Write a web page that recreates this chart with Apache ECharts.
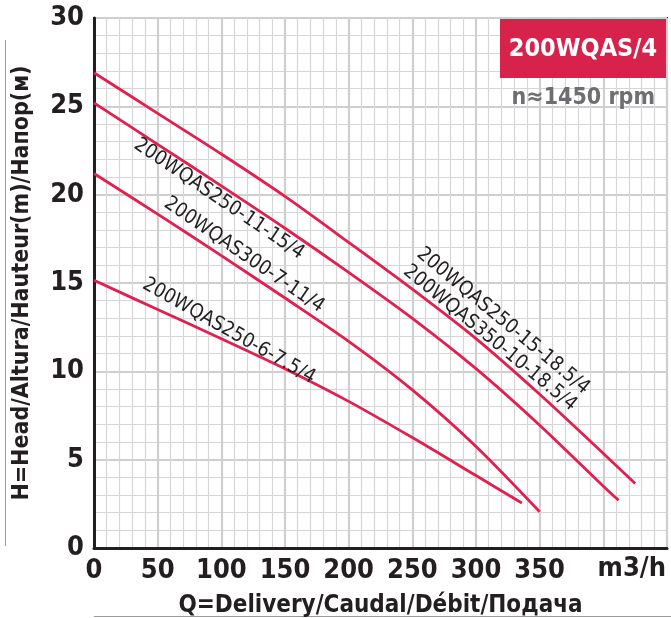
<!DOCTYPE html>
<html>
<head>
<meta charset="utf-8">
<script src="https://cdn.jsdelivr.net/npm/echarts@6/dist/echarts.min.js"></script>
<style>
  html, body { margin: 0; padding: 0; background: #ffffff; }
  #chart { width: 671px; height: 618px; }
</style>
</head>
<body>
<div id="chart"></div>
<script>
// Flow (m3/h) and head (m) readings for each 200WQAS/4 performance curve
const flowA = [0, 50, 100, 150, 200, 250, 300, 350, 400, 425];
const headA = [26.9, 24.6, 22.3, 19.9, 17.3, 14.65, 11.85, 8.7, 5.35, 3.65];

const flowB = [0, 50, 100, 150, 200, 250, 300, 350, 400, 412];
const headB = [25.2, 22.85, 20.5, 18.1, 15.6, 13.0, 10.15, 6.95, 3.5, 2.7];

const flowC = [0, 50, 100, 150, 200, 250, 300, 350];
const headC = [21.2, 18.9, 16.55, 14.15, 11.7, 8.95, 5.75, 2.05];

const flowD = [0, 50, 100, 150, 200, 250, 300, 336];
const headD = [15.15, 13.5, 11.85, 10.15, 8.3, 6.25, 4.1, 2.55];

// Curve captions
const curveNames = ['200WQAS250-11-15/4', '200WQAS300-7-11/4', '200WQAS250-6-7.5/4',
                    '200WQAS250-15-18.5/4', '200WQAS350-10-18.5/4'];
const xTicks = [0, 50, 100, 150, 200, 250, 300, 350];
const yTicks = [0, 5, 10, 15, 20, 25, 30];

const title = '200WQAS/4';
const speed = 'n≈1450 rpm';
const xName = 'Q=Delivery/Caudal/Débit/Подача';
const yName = 'H=Head/Altura/Hauteur(m)/Напор(м)';
const flowUnit = 'm3/h';

const ink = '#231f20';
const curveColor = '#e2204f';
const narrow = '"Liberation Sans Narrow", "DejaVu Sans Condensed", sans-serif';

function pairs(xs, ys) { return xs.map((x, i) => [x, ys[i]]); }

function curve(xs, ys) {
  return {
    type: 'line',
    data: pairs(xs, ys),
    smooth: 0.3,
    symbol: 'none',
    lineStyle: { color: curveColor, width: 2.8 },
    z: 5
  };
}

function caption(text, x, y, deg) {
  return {
    type: 'text',
    x: x, y: y,
    rotation: -deg * Math.PI / 180,
    z: 10,
    style: {
      text: text,
      fill: ink,
      font: '20px ' + narrow,
      align: 'center',
      verticalAlign: 'middle'
    }
  };
}

const chart = echarts.init(document.getElementById('chart'));
chart.setOption({
  animation: false,
  grid: {
    left: 94, right: 4, top: 18, bottom: 70,
    containLabel: false,
    outerBoundsMode: 'none',
    show: true, borderColor: ink, borderWidth: 2, backgroundColor: '#ffffff'
  },
  xAxis: {
    type: 'value',
    min: 0, max: 450, interval: 50,
    name: xName,
    nameLocation: 'middle',
    nameGap: 46,
    nameTextStyle: { color: ink, fontSize: 24, fontWeight: 'bold', fontFamily: narrow },
    axisLine: { show: true, lineStyle: { color: ink, width: 3 } },
    axisTick: { show: false },
    axisLabel: {
      color: ink, fontSize: 27, fontWeight: 'bold', fontFamily: narrow, margin: 9,
      formatter: v => (xTicks.indexOf(v) >= 0 ? String(v) : '')
    },
    splitLine: { show: true, lineStyle: { color: '#cfcfcf', width: 2.2 } },
    minorTick: { show: true, splitNumber: 5, length: 0 },
    minorSplitLine: { show: true, lineStyle: { color: '#d6d6d6', width: 1.2 } }
  },
  yAxis: {
    type: 'value',
    min: 0, max: 30, interval: 5,
    name: yName,
    nameLocation: 'middle',
    nameGap: 60,
    nameTextStyle: { color: ink, fontSize: 23, fontWeight: 'bold', fontFamily: narrow },
    axisLine: { show: true, lineStyle: { color: ink, width: 3 } },
    axisTick: { show: false },
    axisLabel: {
      color: ink, fontSize: 27, fontWeight: 'bold', fontFamily: narrow, margin: 10,
      formatter: v => (yTicks.indexOf(v) >= 0 ? String(v) : '')
    },
    splitLine: { show: true, lineStyle: { color: '#cfcfcf', width: 2.2 } },
    minorTick: { show: true, splitNumber: 5, length: 0 },
    minorSplitLine: { show: true, lineStyle: { color: '#d6d6d6', width: 1.2 } }
  },
  series: [
    curve(flowA, headA),
    curve(flowB, headB),
    curve(flowC, headC),
    curve(flowD, headD)
  ],
  graphic: [
    // model badge, top right
    { type: 'rect', shape: { x: 500, y: 19, width: 166, height: 59 }, style: { fill: '#d7234b' }, z: 8 },
    { type: 'text', x: 583, y: 49, z: 9,
      style: { text: title, fill: '#ffffff', font: 'bold 25px ' + narrow, align: 'center', verticalAlign: 'middle' } },
    { type: 'text', x: 655, y: 98, z: 9,
      style: { text: speed, fill: '#6d6e71', font: 'bold 23px ' + narrow, align: 'right', verticalAlign: 'middle' } },
    // flow unit at the end of the horizontal axis
    { type: 'text', x: 666, y: 569, z: 9,
      style: { text: flowUnit, fill: ink, font: 'bold 27px ' + narrow, align: 'right', verticalAlign: 'middle' } },
    // thin frame rules at the left and bottom edges
    { type: 'line', shape: { x1: 5.5, y1: 40, x2: 5.5, y2: 546 }, style: { stroke: '#9a9a9a', lineWidth: 1 } },
    { type: 'line', shape: { x1: 94, y1: 616.5, x2: 671, y2: 616.5 }, style: { stroke: '#9a9a9a', lineWidth: 1 } },
    caption(curveNames[0], 219, 199, 34),
    caption(curveNames[1], 244, 255, 34.4),
    caption(curveNames[2], 229, 331, 29.5),
    caption(curveNames[3], 503, 321, 39.7),
    caption(curveNames[4], 490, 338, 39.4)
  ]
});
</script>
</body>
</html>
